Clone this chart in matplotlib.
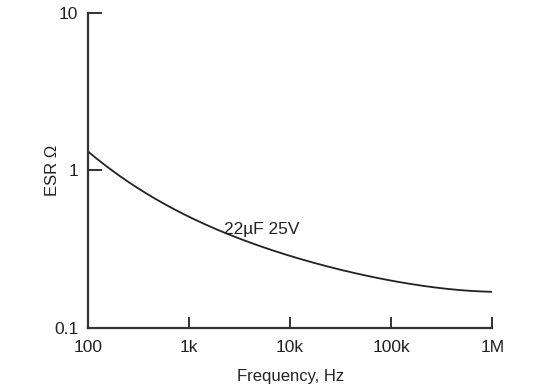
import matplotlib
matplotlib.use("Agg")
import matplotlib.pyplot as plt
import numpy as np
from matplotlib.ticker import FixedLocator, NullLocator

plt.rcParams['font.family'] = ['Liberation Sans', 'DejaVu Sans']

freq = [100, 316, 1000, 3050, 10000, 31000, 100000, 316000, 1000000]
esr = [1.32, 0.77, 0.50, 0.377, 0.29, 0.23, 0.20, 0.18, 0.169]
xticks = [100, 1e3, 1e4, 1e5, 1e6]
xlabels = ["100", "1k", "10k", "100k", "1M"]
yticks = [0.1, 1, 10]
ylabels = ["0.1", "1", "10"]
curve_label = "22µF 25V"

fig = plt.figure(figsize=(5.6, 3.89), dpi=100)
ax = fig.add_axes([0.157, 0.157, 0.722, 0.810])

# smooth curve through read points in log space
lx = np.log10(freq)
ly = np.log10(esr)
xs = np.linspace(lx[0], lx[-1], 300)
coef = np.polyfit(lx, ly, 4)
ys = np.polyval(coef, xs)
ax.plot(10**xs, 10**ys, color='#222222', lw=1.3)

ax.set_xscale('log')
ax.set_yscale('log')
ax.set_xlim(100, 1e6)
ax.set_ylim(0.1, 10)
ax.xaxis.set_major_locator(FixedLocator(xticks))
ax.yaxis.set_major_locator(FixedLocator(yticks))
ax.xaxis.set_minor_locator(NullLocator())
ax.yaxis.set_minor_locator(NullLocator())
ax.set_xticklabels(xlabels)
ax.set_yticklabels(ylabels)
ax.tick_params(direction='in', length=8, width=1.4, color='#333333',
               labelsize=12.5, labelcolor='#222222', pad=7)
ax.tick_params(axis='x', pad=9)
ax.tick_params(axis='y', length=10)
for s in ['top', 'right']:
    ax.spines[s].set_visible(False)
for s in ['left', 'bottom']:
    ax.spines[s].set_linewidth(1.6)
    ax.spines[s].set_color('#333333')

ax.text(5200, 0.42, curve_label, ha='center', va='center', fontsize=12.5, color='#222222')
ax.set_xlabel("Frequency, Hz", fontsize=12, color='#222222')
ax.set_ylabel("ESR Ω", fontsize=12, color='#222222')
ax.xaxis.set_label_coords(0.5, -0.13)
ax.yaxis.set_label_coords(-0.07, 0.5)

fig.savefig("out.png", dpi=100, facecolor='white')
